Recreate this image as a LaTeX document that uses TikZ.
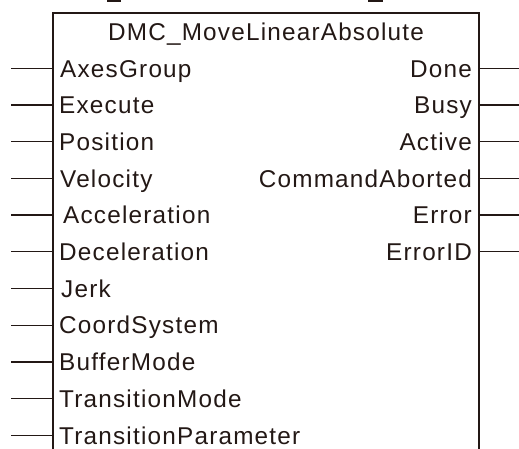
\documentclass[tikz,border=0pt]{standalone}
\usepackage{fontspec}
\setmainfont{Liberation Sans}[LetterSpace=5]
\definecolor{ink}{RGB}{35,24,21}
\tikzset{
  lbl/.style={font=\fontsize{24.3}{29}\selectfont, text=ink, inner sep=0pt},
  wire/.style={draw=ink, line width=1.3pt},
}
\begin{document}
\begin{tikzpicture}[x=1pt,y=-1pt]
\useasboundingbox (0,0) rectangle (519,448);
\clip (0,0) rectangle (519,448);
% cut-off marks at top
\fill[ink] (107,0) rectangle (121,2);
\fill[ink] (368,0) rectangle (383,2);
% block outline
\coordinate (tl) at (53,13);
\coordinate (tr) at (479,13);
\coordinate (bl) at (53,470);
\coordinate (br) at (479,470);
\draw[wire] (bl) -- (tl) -- (tr) -- (br);
\node[lbl, anchor=base] (title) at (266,40) {DMC\_MoveLinearAbsolute};
% inputs
\foreach \t/\dx [count=\i from 0] in {AxesGroup/60, Execute/59, Position/59, Velocity/60, Acceleration/63, Deceleration/59, Jerk/61, CoordSystem/59, BufferMode/59, TransitionMode/59, TransitionParameter/59}{
  \pgfmathsetmacro{\yy}{68.3+36.7*\i}
  \coordinate (inL\i) at (11,\yy);
  \coordinate (inB\i) at (53,\yy);
  \draw[wire] (inL\i) -- (inB\i);
  \node[lbl, anchor=base west] (in\i) at (\dx,\yy+8.7) {\t};
}
% outputs
\foreach \t [count=\i from 0] in {Done, Busy, Active, CommandAborted, Error, ErrorID}{
  \pgfmathsetmacro{\yy}{68.3+36.7*\i}
  \coordinate (outB\i) at (479,\yy);
  \coordinate (outR\i) at (519,\yy);
  \draw[wire] (outB\i) -- (outR\i);
  \node[lbl, anchor=base east] (out\i) at (472,\yy+8.7) {\t};
}
\end{tikzpicture}
\end{document}
